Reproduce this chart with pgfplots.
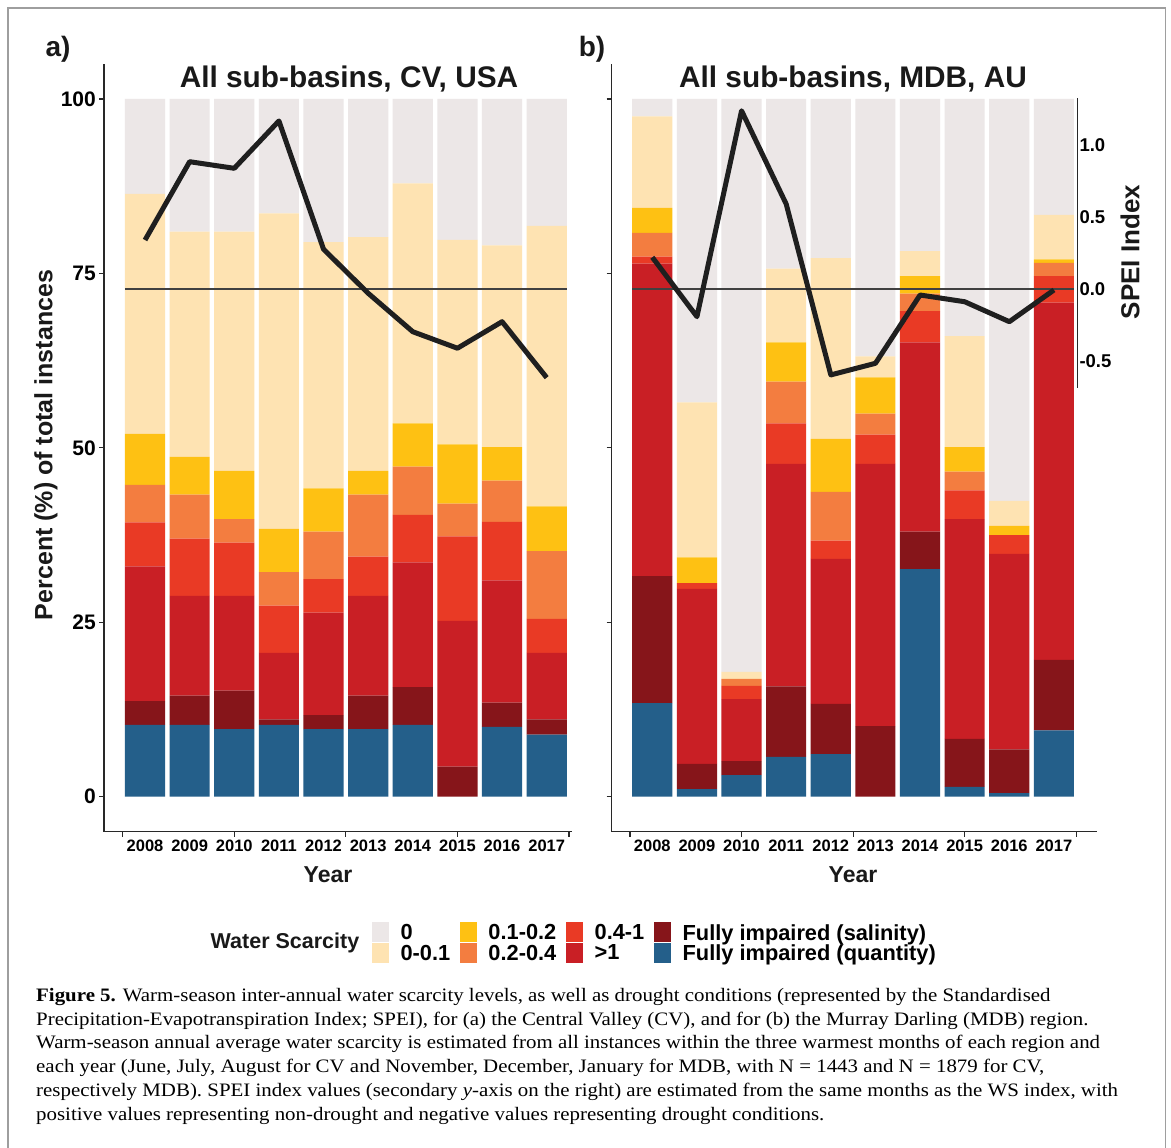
\documentclass[border=0pt]{standalone}
\usepackage{fontspec}
\setmainfont{Liberation Sans}
\newfontfamily\capfont[FakeStretch=1.1]{Liberation Serif}
\usepackage{pgfplots}
\pgfplotsset{compat=1.18}
\usepackage{pgfplotstable}

\definecolor{cz}{RGB}{236,231,231}
\definecolor{c0}{RGB}{254,227,178}
\definecolor{c1}{RGB}{254,193,19}
\definecolor{c2}{RGB}{243,125,64}
\definecolor{c4}{RGB}{233,58,37}
\definecolor{cg}{RGB}{201,31,37}
\definecolor{cs}{RGB}{134,21,26}
\definecolor{cq}{RGB}{36,95,138}
\definecolor{axc}{RGB}{40,40,40}

% segment heights (%), bottom to top
\pgfplotstableread{
x  q    s    g1   g04  g02  g01  g0   z
1  10.3 3.4  19.3 6.3  5.4  7.3  34.4 13.6
2  10.3 4.2  14.3 8.2  6.3  5.4  32.3 19.0
3  9.7  5.5  13.6 7.6  3.4  6.9  34.3 19.0
4  10.3 0.8  9.5  6.8  4.8  6.2  45.2 16.4
5  9.7  2.0  14.7 4.8  6.8  6.2  35.3 20.5
6  9.7  4.8  14.3 5.6  8.9  3.4  33.5 19.8
7  10.3 5.4  17.9 6.8  6.9  6.2  34.4 12.1
8  0.0  4.3  20.9 12.1 4.7  8.5  29.3 20.2
9  10.0 3.5  17.5 8.4  5.9  4.8  28.9 21.0
10 8.9  2.2  9.5  4.9  9.7  6.4  40.2 18.2
}\cvdata

\pgfplotstableread{
x  q    s    g1   g04  g02  g01  g0   z
1  13.4 18.2 44.8 1.0  3.4  3.6  13.1 2.5
2  1.1  3.6  25.1 0.8  0.0  3.7  22.2 43.5
3  3.1  2.0  8.9  1.9  1.0  0.0  1.0  82.1
4  5.7  10.1 31.9 5.8  6.0  5.6  10.6 24.3
5  6.1  7.2  20.8 2.6  7.0  7.6  25.9 22.8
6  0.0  10.1 37.6 4.2  3.0  5.2  3.0  36.9
7  32.6 5.4  27.1 4.5  2.5  2.5  3.6  21.8
8  1.4  6.9  31.5 4.1  2.7  3.5  15.9 34.0
9  0.5  6.3  28.0 2.7  0.0  1.3  3.6  57.6
10 9.5  10.1 51.2 3.8  1.9  0.5  6.4  16.6
}\mdbdata

% SPEI index
\pgfplotstableread{
x  s
1  0.341
2  0.887
3  0.841
4  1.171
5  0.277
6  -0.030
7  -0.298
8  -0.413
9  -0.228
10 -0.618
}\cvspei

\pgfplotstableread{
x  s
1  0.221
2  -0.193
3  1.242
4  0.592
5  -0.599
6  -0.518
7  -0.042
8  -0.089
9  -0.228
10 -0.007
}\mdbspei

\pgfplotsset{
  barax/.style={
    scale only axis, ybar stacked, bar width=0.9, bar shift=0pt,
    ymin=-5, ymax=105, height=767.5pt,
    axis x line*=bottom, axis y line*=left,
    axis line style={-, line width=1.3pt, color=axc},
    tick style={line width=1.1pt, color=axc},
    tick align=outside, major tick length=5pt,
    xtick={0.5,3,5.5,8,10.5}, xticklabels={},
    extra x ticks={1,2,3,4,5,6,7,8,9,10},
    extra x tick labels={2008,2009,2010,2011,2012,2013,2014,2015,2016,2017},
    extra x tick style={major tick length=0pt, xticklabel style={yshift=-5pt}},
    ytick={0,25,50,75,100},
    yticklabels={0,25,50,75,100},
    xticklabel style={font=\fontsize{16.5}{16.5}\selectfont\bfseries, inner sep=0pt, yshift=-3pt},
    yticklabel style={font=\fontsize{21}{21}\selectfont\bfseries, inner sep=0pt, xshift=-3pt},
    every axis plot/.append style={draw=none},
  },
  speiax/.style={
    scale only axis, width=#1, height=289.4pt,
    ymin=-0.688, ymax=1.329, clip=false,
  },
}

\begin{document}
\begin{tikzpicture}[x=1pt,y=1pt]
\fill[white] (0,0) rectangle (1171,1148);
\useasboundingbox (0,0) rectangle (1171,1148);
% frame
\draw[color=black!38, line width=1.5pt] (8,-5) -- (8,1140) -- (1165.5,1140) -- (1165.5,-5);

% ---------------- panel a ----------------
\begin{axis}[barax, at={(104pt,316.4pt)}, anchor=south west, width=467.7pt,
  xmin=0.081, xmax=10.56]
\addplot[fill=cq] table[x=x,y=q]{\cvdata};
\addplot[fill=cs] table[x=x,y=s]{\cvdata};
\addplot[fill=cg] table[x=x,y=g1]{\cvdata};
\addplot[fill=c4] table[x=x,y=g04]{\cvdata};
\addplot[fill=c2] table[x=x,y=g02]{\cvdata};
\addplot[fill=c1] table[x=x,y=g01]{\cvdata};
\addplot[fill=c0] table[x=x,y=g0]{\cvdata};
\addplot[fill=cz] table[x=x,y=z]{\cvdata};
\end{axis}
\begin{axis}[speiax=467.7pt, at={(104pt,760.3pt)}, anchor=south west,
  xmin=0.081, xmax=10.56, hide axis]
\addplot[color=black!75, line width=1.3pt] coordinates {(0.55,0) (10.45,0)};
\addplot[color=black!88, line width=5pt, line join=round] table[x=x,y=s]{\cvspei};
\end{axis}

% ---------------- panel b ----------------
\begin{axis}[barax, at={(611.7pt,316.4pt)}, anchor=south west, width=485pt,
  xmin=0.09, xmax=10.96, yticklabels={}]
\addplot[fill=cq] table[x=x,y=q]{\mdbdata};
\addplot[fill=cs] table[x=x,y=s]{\mdbdata};
\addplot[fill=cg] table[x=x,y=g1]{\mdbdata};
\addplot[fill=c4] table[x=x,y=g04]{\mdbdata};
\addplot[fill=c2] table[x=x,y=g02]{\mdbdata};
\addplot[fill=c1] table[x=x,y=g01]{\mdbdata};
\addplot[fill=c0] table[x=x,y=g0]{\mdbdata};
\addplot[fill=cz] table[x=x,y=z]{\mdbdata};
\end{axis}
\begin{axis}[speiax=465.6pt, at={(611.7pt,760.3pt)}, anchor=south west,
  xmin=0.09, xmax=10.523,
  axis x line=none, axis y line*=right,
  axis line style={-, line width=1.3pt, color=axc},
  ytick={-0.5,0,0.5,1}, yticklabels={-0.5,0.0,0.5,1.0},
  ytick style={draw=none},
  yticklabel style={font=\fontsize{18.5}{18.5}\selectfont\bfseries, inner sep=0pt, xshift=2pt}]
\addplot[color=black!75, line width=1.3pt] coordinates {(0.55,0) (10.45,0)};
\addplot[color=black!88, line width=5pt, line join=round] table[x=x,y=s]{\mdbspei};
\end{axis}

% ---------------- legend ----------------
\begin{axis}[hide axis, scale only axis, width=10pt, height=10pt, at={(0pt,0pt)},
  xmin=0, xmax=1, ymin=0, ymax=1,
  legend columns=4,
  legend cell align=left,
  legend image code/.code={\fill[#1, draw=none] (0pt,-9.5pt) rectangle (17pt,10.5pt);},
  legend style={draw=none, fill=none, inner sep=0pt, outer sep=0pt,
    at={(372pt,225.5pt)}, anchor=north west,
    font=\fontsize{21.8}{21.8}\selectfont\bfseries,
    row sep=0.25pt,
    nodes={inner sep=0pt},
    /tikz/every odd column/.append style={column sep=11.5pt},
    /tikz/every even column/.append style={column sep=9.8pt}},
]
\addlegendimage{fill=cz}\addlegendentry{0}
\addlegendimage{fill=c1}\addlegendentry{0.1-0.2}
\addlegendimage{fill=c4}\addlegendentry{0.4-1}
\addlegendimage{fill=cs}\addlegendentry{Fully impaired (salinity)}
\addlegendimage{fill=c0}\addlegendentry{0-0.1}
\addlegendimage{fill=c2}\addlegendentry{0.2-0.4}
\addlegendimage{fill=cg}\addlegendentry{>1}
\addlegendimage{fill=cq}\addlegendentry{Fully impaired (quantity)}
\end{axis}

% ---------------- text ----------------
\node[font=\fontsize{21.5}{21.5}\selectfont\bfseries, color=black!90] at (285,1148-943) {Water Scarcity};
\node[font=\fontsize{28}{28}\selectfont\bfseries, color=black!90] at (58,1148-49) {a)};
\node[font=\fontsize{28}{28}\selectfont\bfseries, color=black!90] at (592,1148-49) {b)};
\node[font=\fontsize{29.8}{29.8}\selectfont\bfseries, color=black!90] at (349,1148-79) {All sub-basins, CV, USA};
\node[font=\fontsize{29.8}{29.8}\selectfont\bfseries, color=black!90] at (853,1148-79) {All sub-basins, MDB, AU};
\node[font=\fontsize{23}{23}\selectfont\bfseries, color=black!90] at (328,1148-875) {Year};
\node[font=\fontsize{23}{23}\selectfont\bfseries, color=black!90] at (853,1148-875) {Year};
\node[font=\fontsize{25}{25}\selectfont\bfseries, color=black!90, rotate=90] at (46,1148-445) {Percent (\%) of total instances};
\node[font=\fontsize{26}{26}\selectfont\bfseries, color=black!90, rotate=90] at (1130,1148-252) {SPEI Index};

\node[anchor=north west, inner sep=0pt, align=left, font=\capfont\fontsize{19}{23.8}\selectfont] at (36,1148-988)
{\textbf{Figure 5.} Warm-season inter-annual water scarcity levels, as well as drought conditions (represented by the Standardised\\
Precipitation-Evapotranspiration Index; SPEI), for (a) the Central Valley (CV), and for (b) the Murray Darling (MDB) region.\\
Warm-season annual average water scarcity is estimated from all instances within the three warmest months of each region and\\
each year (June, July, August for CV and November, December, January for MDB, with N = 1443 and N = 1879 for CV,\\
respectively MDB). SPEI index values (secondary \textit{y}-axis on the right) are estimated from the same months as the WS index, with\\
positive values representing non-drought and negative values representing drought conditions.};
\end{tikzpicture}
\end{document}
